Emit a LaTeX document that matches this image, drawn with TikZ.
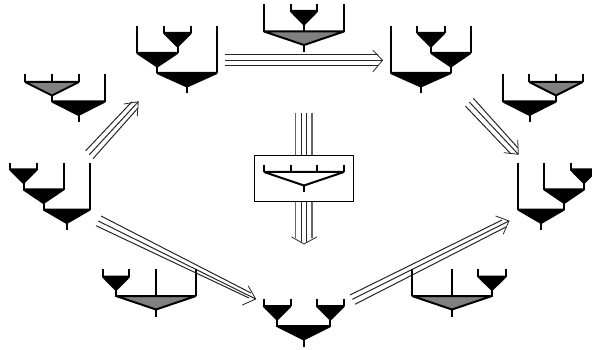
\documentclass[tikz,border=0pt]{standalone}
\tikzset{
  x=1pt,y=-1pt,
  wall/.style={line width=2pt,line cap=butt},
  tri/.style={line width=1pt,black!85},
  outer/.style={line width=1.4pt,black!60},
  barb/.style={line width=0.8pt,black!85,line cap=round,line join=round},
  frame/.style={draw=black,line width=0.8pt,fill=white}
}
% funnel: x-left, x-right, y-top, fill colour
\newcommand{\fnl}[4]{%
  \pgfmathsetmacro{\xm}{(#1+#2)/2}
  \filldraw[wall,fill=#4,line join=bevel] (#1,#3) -- (#2,#3) -- (\xm,#3+13.5) -- cycle;
  \draw[wall] (\xm,#3+13.5) -- (\xm,#3+20.5);}
% vertical stroke ending on a funnel top
\newcommand{\up}[3]{\draw[wall] (#1,#2) -- (#1,#3);}
% triple arrow: name, start offset points, tip, barbs
\newcommand{\triple}[9]{%
  \coordinate (s1#1) at (#2); \coordinate (s2#1) at (#3); \coordinate (s3#1) at (#4);
  \coordinate (e1#1) at (#5); \coordinate (e2#1) at (#6); \coordinate (e3#1) at (#7);
  \draw[tri] (s1#1) -- (e1#1);
  \draw[tri] (s2#1) -- (e2#1);
  \draw[tri] (s3#1) -- (e3#1);
  \coordinate (ba#1) at (#8); \coordinate (bb#1) at (#9);
  \draw[barb] (ba#1) -- (e2#1) -- (bb#1);}
\begin{document}
\begin{tikzpicture}
\useasboundingbox (0,0) rectangle (592,350);
% arrows
\triple{n}{85.7,150.7}{89.3,154.7}{93,158.7}{132,101.7}{138.3,101.7}{138,108}{124,104}{137.3,116}
\triple{h}{225,55}{225,60.3}{225,65.7}{378,55}{382.5,60.3}{378,65.7}{373,50.3}{373,71.7}
\triple{r}{473.3,98.3}{469.3,102}{465.3,106}{518,148}{518.3,154.3}{511,154}{517.7,140}{504,152.7}
\triple{l}{101,216}{98.3,221}{96,225.7}{251,293}{255.7,299}{249,298}{248.3,286}{242.3,305}
\triple{q}{350,295}{352.3,299.3}{355,304.3}{502,220}{509,221}{506,227}{495.7,216}{503.3,234}
% vertical arrow: four strokes
\coordinate (va) at (295.7,113); \coordinate (vb) at (301,113); \coordinate (vc) at (306.7,113); \coordinate (vd) at (312,113);
\coordinate (wa) at (295.7,238); \coordinate (wb) at (301,241.5); \coordinate (wc) at (306.7,241.5); \coordinate (wd) at (312,238);
\coordinate (vtip) at (304,244); \coordinate (vl) at (291.7,237); \coordinate (vr) at (316.7,237);
\draw[outer] (va) -- (wa); \draw[tri] (vb) -- (wb); \draw[tri] (vc) -- (wc); \draw[outer] (vd) -- (wd);
\draw[barb] (vl) -- (vtip) -- (vr);
% centre box
\node[frame,minimum width=99pt,minimum height=45.6pt,inner sep=0pt] (box) at (303.8,178.5) {};
\fnl{264}{344}{172}{white}
\foreach \x in {264,290.7,317.3,344}{\up{\x}{165}{172}}
% tree A: left stack
\fnl{10}{37}{169.5}{black}\up{10}{163}{170}\up{37}{163}{170}
\fnl{23.5}{63.5}{189.5}{black}\up{63.5}{163}{190}
\fnl{43.5}{90}{209.5}{black}\up{90}{163}{210}
% tree B: upper left, gray
\fnl{25}{79}{82}{gray}\foreach \x in {25,52,79}{\up{\x}{74.5}{82}}
\fnl{52}{105}{101.5}{black}\up{105}{74.5}{102}
% tree C: top left
\fnl{164}{191}{33}{black}\up{164}{26}{33}\up{191}{26}{33}
\fnl{137}{177.5}{53}{black}\up{137}{26}{53}
\fnl{157}{217}{73}{black}\up{217}{26}{73}
% tree D: top middle
\fnl{290.7}{317.3}{11}{black}\up{290.7}{4}{11}\up{317.3}{4}{11}
\fnl{264}{344}{31.5}{gray}\up{264}{4}{32}\up{344}{4}{32}
% tree F: top right
\fnl{417.3}{444.5}{33}{black}\up{417.3}{26}{33}\up{444.5}{26}{33}
\fnl{431}{470.7}{53}{black}\up{470.7}{26}{53}
\fnl{390.7}{451}{73}{black}\up{390.7}{26}{73}
% tree G: right, gray
\fnl{529.3}{582.7}{82}{gray}\foreach \x in {529.3,556,582.7}{\up{\x}{74.5}{82}}
\fnl{503}{556}{101.5}{black}\up{503}{74.5}{102}
% tree H: right stack
\begin{scope}
\clip (0,0) rectangle (592,350);
\fnl{570.7}{597.3}{169.5}{black}\up{570.7}{163}{170}
\end{scope}
\fnl{544.3}{584}{189.5}{black}\up{544.3}{163}{190}
\fnl{518}{564.2}{209.5}{black}\up{518}{163}{210}
% tree I: bottom left, gray
\fnl{102.7}{129.3}{276.5}{black}\up{102.7}{269}{277}\up{129.3}{269}{277}
\fnl{116}{196}{296}{gray}\up{156}{269}{296}\up{196}{269}{296}
% tree J: bottom centre
\fnl{263.5}{290.7}{306}{black}\up{263.5}{299.3}{306}\up{290.7}{299.3}{306}
\fnl{316.7}{344}{306}{black}\up{316.7}{299.3}{306}\up{344}{299.3}{306}
\fnl{277}{330.5}{326}{black}
% tree K: bottom right, gray
\fnl{478.3}{505.7}{276.5}{black}\up{478.3}{269}{277}\up{505.7}{269}{277}
\fnl{412}{492}{296}{gray}\up{412}{269}{296}\up{452}{269}{296}
\end{tikzpicture}
\end{document}
